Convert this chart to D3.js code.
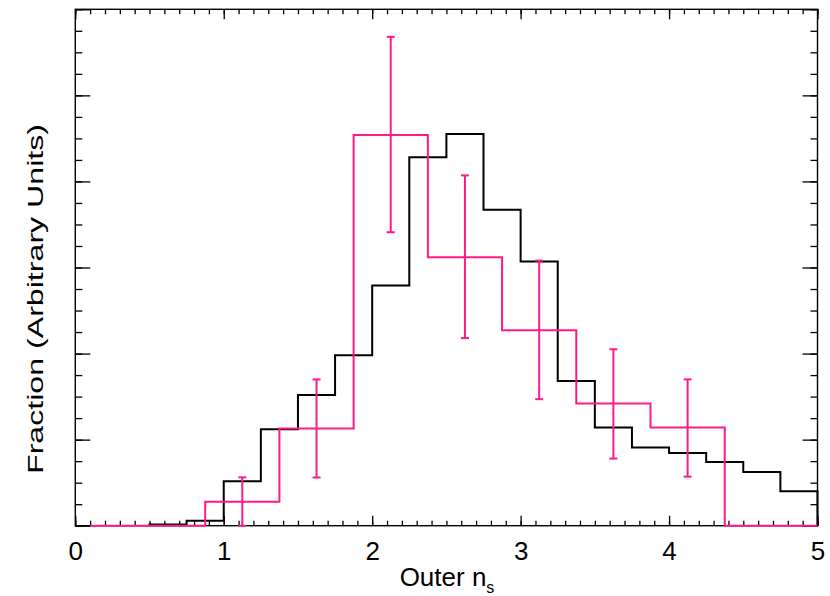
<!DOCTYPE html>
<html>
<head>
<meta charset="utf-8">
<script src="https://cdn.jsdelivr.net/npm/d3@7"></script>
<style>
  body { margin: 0; background: #fff; }
  svg { display: block; font-family: "Liberation Sans", Arial, sans-serif; }
  .tick text { font-size: 26px; fill: #000; }
  .tick line { stroke: #000; stroke-width: 1.3; }
</style>
</head>
<body>
<svg id="chart"></svg>
<script>
// Black histogram (0.25 wide bins)
const blackEdges = [0.5, 0.75, 1.0, 1.25, 1.5, 1.75, 2.0, 2.25, 2.5, 2.75, 3.0, 3.25, 3.5, 3.75, 4.0, 4.25, 4.5, 4.75, 5.0];
const blackValues = [0.014, 0.058, 0.516, 1.12, 1.52, 1.98, 2.79, 4.28, 4.55, 3.67, 3.07, 1.68, 1.14, 0.91, 0.845, 0.74, 0.624, 0.40];

// Pink histogram (0.5 wide bins) with error bars
const pinkEdges = [0.1, 0.875, 1.375, 1.875, 2.375, 2.875, 3.375, 3.875, 4.375, 5.0];
const pinkValues = [0, 0.279, 1.13, 4.54, 3.12, 2.27, 1.42, 1.14, 0];
const errCenters = [1.125, 1.625, 2.125, 2.625, 3.125, 3.625, 4.125];
const errLow = [0, 0.56, 3.41, 2.18, 1.47, 0.78, 0.57];
const errHigh = [0.562, 1.70, 5.68, 4.07, 3.08, 2.05, 1.70];

const xMajor = [0, 1, 2, 3, 4, 5];
const yMajor = [0, 1, 2, 3, 4, 5, 6];

const width = 830, height = 596;
const margin = {top: 9.3, right: 12.5, bottom: 70.3, left: 75.3};
const innerW = width - margin.left - margin.right;
const innerH = height - margin.top - margin.bottom;

const svg = d3.select('#chart')
    .attr('width', width)
    .attr('height', height);

const chart = svg.append('g')
    .attr('transform', `translate(${margin.left},${margin.top})`);

const xScale = d3.scaleLinear().domain([0, 5]).range([0, innerW]);
const yScale = d3.scaleLinear().domain([0, 6]).range([innerH, 0]);

const xMinor = d3.range(0, 5.001, 0.1).map(d => +d.toFixed(2));
const yMinor = d3.range(0, 6.001, 0.25);

// Minor ticks first, then major ticks with labels
chart.append('g').attr('transform', `translate(0,${innerH})`)
    .call(d3.axisBottom(xScale).tickValues(xMinor).tickSize(-5).tickFormat(''));
chart.append('g')
    .call(d3.axisTop(xScale).tickValues(xMinor).tickSize(-5).tickFormat(''));
chart.append('g')
    .call(d3.axisLeft(yScale).tickValues(yMinor).tickSize(-7).tickFormat(''));
chart.append('g').attr('transform', `translate(${innerW},0)`)
    .call(d3.axisRight(yScale).tickValues(yMinor).tickSize(-7).tickFormat(''));

chart.append('g').attr('transform', `translate(0,${innerH})`)
    .call(d3.axisBottom(xScale).tickValues(xMajor).tickSize(-10).tickPadding(16).tickFormat(d3.format('d')));
chart.append('g')
    .call(d3.axisTop(xScale).tickValues(xMajor).tickSize(-10).tickFormat(''));
chart.append('g')
    .call(d3.axisLeft(yScale).tickValues(yMajor).tickSize(-15).tickFormat(''));
chart.append('g').attr('transform', `translate(${innerW},0)`)
    .call(d3.axisRight(yScale).tickValues(yMajor).tickSize(-15).tickFormat(''));

chart.selectAll('.domain').remove();

// Frame
chart.append('rect')
    .attr('width', innerW)
    .attr('height', innerH)
    .attr('fill', 'none')
    .attr('stroke', '#000')
    .attr('stroke-width', 1.4);

const step = d3.line()
    .x(d => xScale(d[0]))
    .y(d => yScale(d[1]))
    .curve(d3.curveStepAfter);

function histPoints(edges, vals) {
  const pts = [[edges[0], 0]];
  vals.forEach((v, i) => pts.push([edges[i], v]));
  pts.push([edges[edges.length - 1], vals[vals.length - 1]]);
  pts.push([edges[edges.length - 1], 0]);
  return pts;
}

chart.append('path')
    .attr('d', step(histPoints(blackEdges, blackValues)))
    .attr('fill', 'none')
    .attr('stroke', '#000')
    .attr('stroke-width', 2);

const pink = '#ff1a8a';

chart.append('path')
    .attr('d', step(histPoints(pinkEdges, pinkValues)))
    .attr('fill', 'none')
    .attr('stroke', pink)
    .attr('stroke-width', 2);

// Error bars
const errG = chart.append('g')
    .attr('stroke', pink)
    .attr('stroke-width', 2);

errCenters.forEach((c, i) => {
  const cx = xScale(c);
  errG.append('line')
      .attr('x1', cx).attr('x2', cx)
      .attr('y1', yScale(errLow[i])).attr('y2', yScale(errHigh[i]));
  [errLow[i], errHigh[i]].forEach(v => {
    errG.append('line')
        .attr('x1', cx - 4).attr('x2', cx + 4)
        .attr('y1', yScale(v)).attr('y2', yScale(v));
  });
});

// Axis titles
const xTitle = svg.append('text')
    .attr('x', 447)
    .attr('y', 586)
    .attr('text-anchor', 'middle')
    .attr('font-size', 26);
xTitle.append('tspan').text('Outer n');
xTitle.append('tspan').attr('font-size', 16).attr('dy', 7).text('s');

// y title is drawn stretched along its length, as in the original plot
svg.append('text')
    .attr('transform', 'translate(43,299) rotate(-90) scale(1,0.7)')
    .attr('text-anchor', 'middle')
    .attr('font-size', 31)
    .attr('textLength', 350)
    .attr('lengthAdjust', 'spacingAndGlyphs')
    .text('Fraction (Arbitrary Units)');
</script>
</body>
</html>
